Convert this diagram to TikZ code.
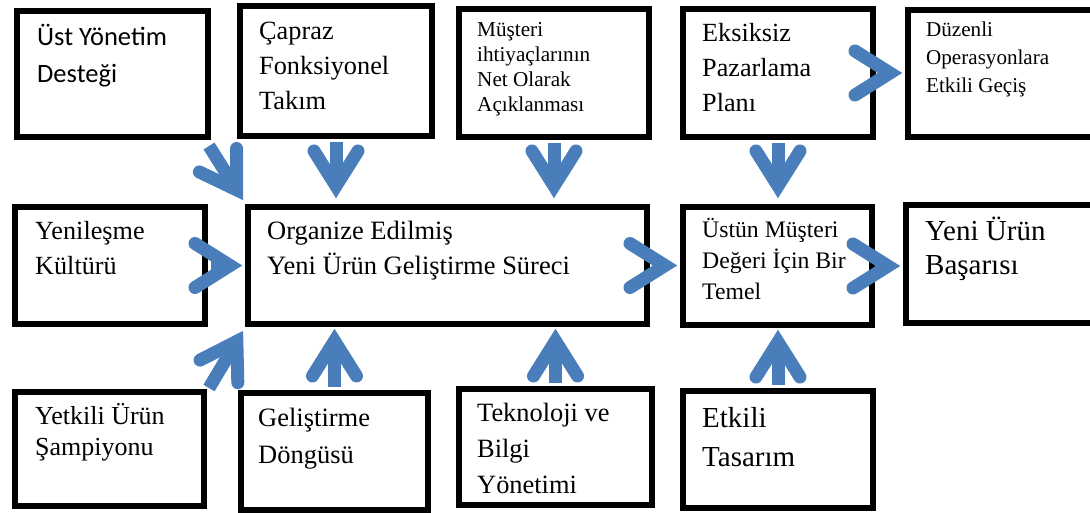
\documentclass[tikz,border=0pt]{standalone}
\usepackage{fontspec}
\setmainfont{Liberation Serif}
\newfontfamily\calib{Carlito}
\usetikzlibrary{calc,decorations.markings}
\definecolor{arrowblue}{RGB}{74,126,187}
\newcommand{\boxlines}[1]{\begin{tabular}[t]{@{}l@{}}#1\end{tabular}}
\tikzset{
  box/.style={draw=black, line width=6pt, fill=white, inner sep=0pt, anchor=north west},
  txt/.style={anchor=base west, inner sep=0pt},
  conn/.style={draw=arrowblue, line width=13pt, line cap=butt, shorten >=14pt,
    postaction={decorate, decoration={markings, mark=at position 1 with {
      \draw[draw=arrowblue, line width=13pt, shorten >=0pt, shorten <=0pt,
            line cap=round, line join=miter] (-47pt,22pt) -- (-12pt,0pt) -- (-47pt,-22pt);}}}},
}
\begin{document}
\begin{tikzpicture}[x=1pt,y=-1pt]
\useasboundingbox (0,0) rectangle (1090,513);
% boxes
\node[box, minimum width=191pt, minimum height=126pt] (b1) at (14,8) {};
\node[box, minimum width=192pt, minimum height=130pt] (b2) at (237,3) {};
\node[box, minimum width=190pt, minimum height=128pt] (b3) at (456,6) {};
\node[box, minimum width=190pt, minimum height=128pt] (b4) at (680,6) {};
\node[box, minimum width=190pt, minimum height=127pt] (b5) at (905,7) {};
\node[box, minimum width=190pt, minimum height=117pt] (yen) at (12,204) {};
\node[box, minimum width=399pt, minimum height=117pt] (org) at (245,204) {};
\node[box, minimum width=189pt, minimum height=118pt] (ust) at (680,204) {};
\node[box, minimum width=190pt, minimum height=118pt] (yub) at (903,202) {};
\node[box, minimum width=189pt, minimum height=114pt] (yet) at (12,389) {};
\node[box, minimum width=187pt, minimum height=117pt] (gel) at (238,390) {};
\node[box, minimum width=193pt, minimum height=116pt] (tek) at (456,386) {};
\node[box, minimum width=190pt, minimum height=117pt] (etk) at (680,388) {};
% texts
\node[txt, font=\calib\fontsize{26.5}{37}\selectfont] (t1) at (37,46) {\boxlines{Üst Yönetim\\Desteği}};
\node[txt, font=\fontsize{26.3}{35}\selectfont] (t2) at (259,40) {\boxlines{Çapraz\\Fonksiyonel\\Takım}};
\node[txt, font=\fontsize{21.2}{25}\selectfont] (t3) at (477,37) {\boxlines{Müşteri\\ihtiyaçlarının\\Net Olarak\\Açıklanması}};
\node[txt, font=\fontsize{26.2}{35}\selectfont] (t4) at (702,42) {\boxlines{Eksiksiz\\Pazarlama\\Planı}};
\node[txt, font=\fontsize{21.1}{28}\selectfont] (t5) at (926,37) {\boxlines{Düzenli\\Operasyonlara\\Etkili Geçiş}};
\node[txt, font=\fontsize{26.2}{35}\selectfont] (tyen) at (35,240) {\boxlines{Yenileşme\\Kültürü}};
\node[txt, font=\fontsize{26.5}{35}\selectfont] (torg) at (267,240) {\boxlines{Organize Edilmiş\\Yeni Ürün Geliştirme Süreci}};
\node[txt, font=\fontsize{23.7}{31}\selectfont] (tust) at (702,238) {\boxlines{Üstün Müşteri\\Değeri İçin Bir\\Temel}};
\node[txt, font=\fontsize{29}{34}\selectfont] (tyub) at (925,241) {\boxlines{Yeni Ürün\\Başarısı}};
\node[txt, font=\fontsize{26}{31}\selectfont] (tyet) at (35,424) {\boxlines{Yetkili Ürün\\Şampiyonu}};
\node[txt, font=\fontsize{26.5}{37}\selectfont] (tgel) at (258,426) {\boxlines{Geliştirme\\Döngüsü}};
\node[txt, font=\fontsize{26.4}{36}\selectfont] (ttek) at (477,421) {\boxlines{Teknoloji ve\\Bilgi\\Yönetimi}};
\node[txt, font=\fontsize{29}{39}\selectfont] (tetk) at (702,427) {\boxlines{Etkili\\Tasarım}};
% connectors
\draw[conn] ([xshift=-2pt,yshift=-6pt]b1.south east) -- ([xshift=-2pt,yshift=4pt]org.north west);
\draw[conn] ([yshift=-3pt]b2.south) -- ([yshift=6pt]b2.south |- org.north);
\draw[conn] ([yshift=-3pt]b3.south) -- ([yshift=6pt]b3.south |- org.north);
\draw[conn] ([yshift=-3pt]b4.south) -- ([yshift=6pt]b4.south |- ust.north);
\draw[conn] ([xshift=3pt]b4.east) -- ([xshift=-3pt]b5.west |- b4.east);
\draw[conn] ([xshift=3pt]yen.east) -- ([xshift=-3pt]org.west);
\draw[conn] ([xshift=3pt]org.east) -- ([xshift=-3pt]ust.west |- org.east);
\draw[conn] ([xshift=3pt]ust.east) -- ([xshift=-3pt]yub.west |- ust.east);
\draw[conn] ([xshift=2pt,yshift=1pt]yet.north east) -- ([xshift=-2pt,yshift=-4pt]org.south west);
\draw[conn] ([yshift=3pt]gel.north) -- ([yshift=-2pt]gel.north |- org.south);
\draw[conn] ([yshift=3pt]tek.north) -- ([yshift=-2pt]tek.north |- org.south);
\draw[conn] ([yshift=3pt]etk.north) -- ([yshift=-2pt]etk.north |- ust.south);
\end{tikzpicture}
\end{document}
